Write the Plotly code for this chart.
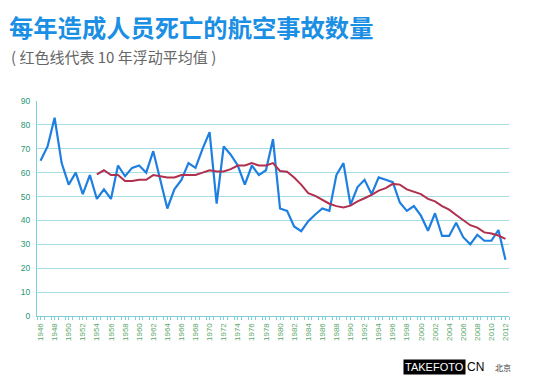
import plotly.graph_objects as go

years = list(range(1946, 2013))
accidents = [65, 71, 83, 64, 55, 60, 51, 59, 49, 53,
             49, 63, 58.5, 62, 63, 60, 69, 57, 45, 53,
             57, 64, 62, 70, 77, 47, 71, 67.5, 63, 55,
             63, 59, 61, 74, 45, 44, 37.5, 35.5, 39.7, 42.5,
             45, 44, 59, 64, 46.5, 54, 57, 51, 58, 57,
             56, 47.5, 44, 46, 42, 35.7, 43, 33.5, 33.5, 39,
             33, 30, 34, 31.5, 31.5, 36, 23.5]

avg_years = list(range(1954, 2013))
moving_avg = [59.3, 61, 59, 59, 56.5, 56.5, 57, 57, 59, 58.5,
              58, 58, 59, 59, 59, 60, 61, 60.5, 60.5, 61.5,
              63, 63, 64, 63, 63, 64, 60.7, 60.4, 58, 55,
              51.4, 50.3, 48.6, 47, 46, 45.4, 46.2, 48, 49.3, 50.7,
              52.5, 53.5, 55.3, 55, 53, 52, 51, 49, 48, 46,
              44.5, 42.3, 40, 38, 37, 35, 34.5, 33.7, 32.3]

x_labels = list(range(1946, 2013, 2))
y_ticks = list(range(0, 91, 10))

title = "每年造成人员死亡的航空事故数量"
subtitle = "( 红色线代表 10 年浮动平均值 )"

W, H = 540, 377
L, R, T, B = 37, 31, 101, 61
PW, PH = W - L - R, H - T - B


def px(x):
    return (x - L) / PW


def py(y):
    return (H - B - y) / PH


fig = go.Figure()
fig.add_trace(go.Scatter(x=years, y=accidents, mode="lines",
                         line=dict(color="#1f7fe0", width=2.2), showlegend=False,
                         hoverinfo="skip"))
fig.add_trace(go.Scatter(x=avg_years, y=moving_avg, mode="lines",
                         line=dict(color="#b0304e", width=2), showlegend=False,
                         hoverinfo="skip"))

annotations = [
    dict(text="<b>" + title + "</b>", x=px(7), y=py(27), xanchor="left", yanchor="middle",
         font=dict(size=24.3, color="#1a8fe3", family="Noto Sans CJK SC")),
    dict(text=subtitle, x=px(9), y=py(57), xanchor="left", yanchor="middle",
         font=dict(size=15, color="#666666", family="Noto Sans CJK SC")),
    dict(text="TAKEFOTO", x=px(403), y=py(367), xanchor="left", yanchor="middle",
         bgcolor="black", borderpad=1,
         font=dict(size=11, color="white", family="Liberation Sans")),
    dict(text="CN", x=px(465), y=py(367), xanchor="left", yanchor="middle",
         font=dict(size=12, color="black", family="Liberation Sans")),
    dict(text="北京", x=px(493), y=py(367), xanchor="left", yanchor="middle",
         font=dict(size=8, color="#333333", family="Noto Sans CJK SC")),
]
for a in annotations:
    a.update(xref="paper", yref="paper", showarrow=False)

fig.update_layout(
    width=W, height=H,
    margin=dict(l=L, r=R, t=T, b=B),
    paper_bgcolor="white", plot_bgcolor="white",
    font=dict(family="Noto Sans CJK SC, Liberation Sans, sans-serif"),
    hovermode=False,
    xaxis=dict(range=[1945.5, 2012.5], tickmode="array", tickvals=x_labels,
               ticktext=[str(v) for v in x_labels], tickangle=-90,
               tickfont=dict(size=8, color="#5aa86a", family="Liberation Sans"),
               showgrid=False, zeroline=False, showline=True,
               linecolor="#7fcfd8", linewidth=1, ticks="outside", ticklen=3,
               tickcolor="#7fcfd8",
               minor=dict(tick0=1945.5, dtick=1, ticks="outside", ticklen=3,
                          tickcolor="#7fcfd8", showgrid=False)),
    yaxis=dict(range=[0, 90], tickmode="array", tickvals=y_ticks,
               tickfont=dict(size=8.5, color="#2a9576", family="Liberation Sans"),
               showgrid=True, gridcolor="#a6dde6", gridwidth=1,
               zeroline=False, showline=True, linecolor="#7fcfd8", linewidth=1,
               ticks="", ticklabelstandoff=4),
    annotations=annotations,
)

fig.write_html("out.html", config={"displayModeBar": False},
               post_script="document.body.style.margin='0';")
